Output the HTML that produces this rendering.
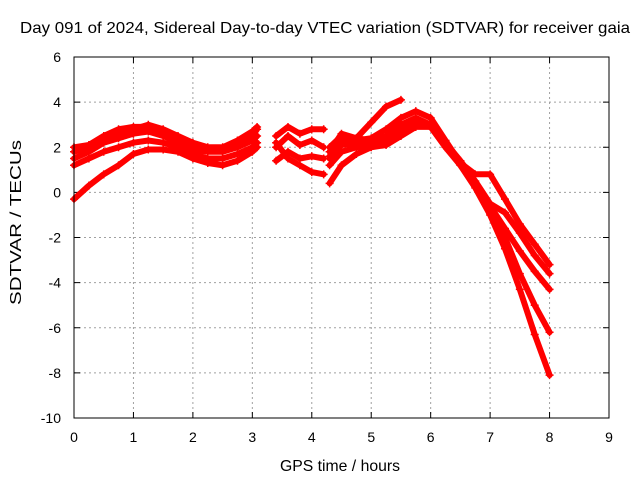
<!DOCTYPE html>
<html><head><meta charset="utf-8"><style>
body{margin:0;background:#fff;}
svg text{font-family:"Liberation Sans",sans-serif;font-size:14px;fill:#000;}
</style></head><body>
<svg id="chart" width="640" height="480" xmlns="http://www.w3.org/2000/svg">
<rect width="640" height="480" fill="#fff"/>
<text x="20" y="33" style="font-size:16px" textLength="610" lengthAdjust="spacingAndGlyphs">Day 091 of 2024, Sidereal Day-to-day VTEC variation (SDTVAR) for receiver gaia</text>
<text x="280" y="471" style="font-size:16px" textLength="120" lengthAdjust="spacingAndGlyphs">GPS time / hours</text>
<text x="21" y="305" style="font-size:16px" textLength="165" lengthAdjust="spacingAndGlyphs" transform="rotate(-90 21 305)">SDTVAR / TECUs</text>
<g id="grid"></g>
<g id="series"></g>
<rect x="74" y="57" width="535" height="361" fill="none" stroke="#000" stroke-width="1"/>
</svg>
<script>
const xTicks=[0,1,2,3,4,5,6,7,8,9];
const yTicks=[-10,-8,-6,-4,-2,0,2,4,6];
const tA=[0,0.25,0.5,0.75,1,1.25,1.5,1.75,2,2.25,2.5,2.75,3,3.08];
const a1=[2.0,2.1,2.5,2.8,2.9,2.9,2.6,2.3,2.1,1.9,1.9,2.1,2.5,2.8];
const a2=[1.5,1.8,2.2,2.4,2.6,2.7,2.5,2.2,1.9,1.8,1.8,2.0,2.3,2.5];
const a3=[1.2,1.5,1.8,2.0,2.2,2.3,2.2,2.0,1.7,1.5,1.5,1.7,2.0,2.2];
const a4=[-0.3,0.3,0.8,1.2,1.7,1.9,1.9,1.8,1.5,1.3,1.2,1.4,1.8,2.0];
const a5=[1.8,2.0,2.3,2.6,2.8,3.0,2.8,2.5,2.2,2.0,2.0,2.3,2.7,2.9];
const tB=[3.4,3.6,3.8,4.0,4.2];
const b1=[2.5,2.9,2.6,2.8,2.8];
const b2=[2.0,2.5,2.1,2.3,2.0];
const b3=[1.4,1.8,1.5,1.6,1.5];
const b4=[2.2,1.5,1.2,0.9,0.8];
const tC=[4.3,4.5,4.75,5,5.25,5.5,5.75,6,6.25,6.5,6.75,7,7.25,7.5,7.75,8];
const c1=[1.8,2.6,2.4,3.1,3.8,4.1,null,null,null,null,null,null,null,null,null,null];
const c2=[2.0,2.5,2.3,2.4,2.8,3.3,3.6,3.3,2.3,1.3,0.8,0.8,-0.3,-1.4,-2.3,-3.2];
const c3=[1.5,2.1,2.2,2.2,2.5,3.0,3.3,3.0,2.2,1.4,0.5,-0.5,-0.9,-1.8,-2.8,-3.6];
const c4=[0.4,1.2,1.7,2.0,2.1,2.5,2.9,2.9,2.0,1.3,0.4,-0.6,-1.6,-2.6,-3.5,-4.3];
const c5=[1.2,1.8,2.0,2.1,2.2,2.6,3.0,2.9,2.0,1.2,0.3,-0.8,-2.0,-3.6,-5.0,-6.2];
const c6=[1.6,2.3,2.4,2.3,2.3,2.8,3.2,3.0,2.1,1.2,0.2,-1.0,-2.5,-4.3,-6.3,-8.1];

const X=v=>74+(v-0)*(535/9);
const Y=v=>418-(v+10)*(361/16);
const NS="http://www.w3.org/2000/svg";
const grid=document.getElementById('grid');
function mk(tag,attrs,parent){const e=document.createElementNS(NS,tag);for(const k in attrs)e.setAttribute(k,attrs[k]);parent.appendChild(e);return e;}
xTicks.forEach(v=>{
  const x=X(v);
  if(v>0&&v<9){const l=mk('line',{x1:x,x2:x,y1:57,y2:418,stroke:'#a0a0a0','stroke-dasharray':'2,3'},grid);
  
  }
  mk('line',{x1:x,x2:x,y1:418,y2:412,stroke:'#000'},grid);
  mk('line',{x1:x,x2:x,y1:57,y2:63,stroke:'#000'},grid);
  const t=mk('text',{x:x,y:442,'text-anchor':'middle'},grid);t.textContent=v;
  
  
});
yTicks.forEach(v=>{
  const y=Y(v);
  if(v>-10&&v<6){const l=mk('line',{x1:74,x2:609,y1:y,y2:y,stroke:'#a0a0a0','stroke-dasharray':'2,3'},grid);
  
  }
  mk('line',{x1:74,x2:80,y1:y,y2:y,stroke:'#000'},grid);
  mk('line',{x1:603,x2:609,y1:y,y2:y,stroke:'#000'},grid);
  const t=mk('text',{x:61,y:y+5,'text-anchor':'end'},grid);t.textContent=v;
  
  
});
const sg=document.getElementById('series');
const all=[[tA,a1],[tA,a2],[tA,a3],[tA,a4],[tA,a5],[tB,b1],[tB,b2],[tB,b3],[tB,b4],[tC,c1],[tC,c2],[tC,c3],[tC,c4],[tC,c5],[tC,c6]];
all.forEach(([ts,vs],i)=>{
  let pts=[];
  ts.forEach((t,j)=>{if(vs[j]!==null)pts.push(X(t).toFixed(1)+','+Y(vs[j]).toFixed(1));});
  const p=mk('polyline',{points:pts.join(' '),fill:'none',stroke:'#f00','stroke-width':6,'stroke-linejoin':'round','stroke-linecap':'round'},sg);
  
  
  ts.forEach((t,j)=>{if(vs[j]===null)return;const x=X(t),y=Y(vs[j]);
    const m=mk('path',{d:`M${x-4},${y}H${x+4}M${x},${y-4}V${y+4}`,stroke:'#f00','stroke-width':1.5},sg);
    
    
  });
});
</script>
</body></html>
